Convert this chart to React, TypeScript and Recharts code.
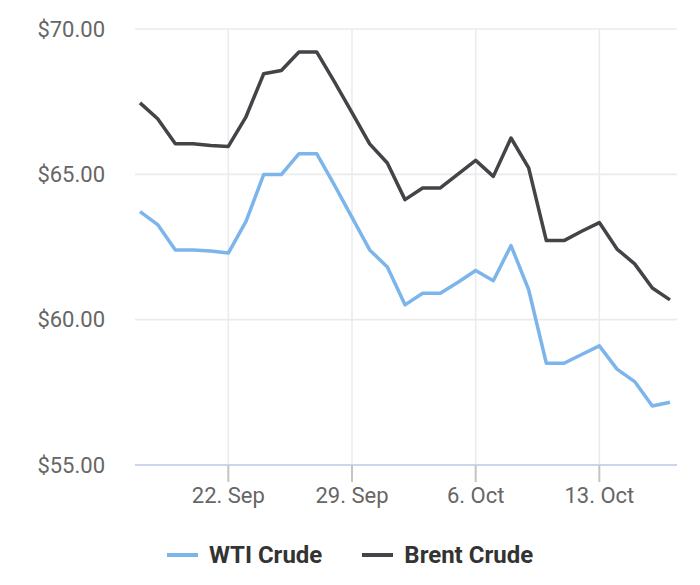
import { LineChart, Line, XAxis, YAxis, CartesianGrid, ReferenceLine } from "recharts";

const dates = [
  "17. Sep", "18. Sep", "19. Sep", "20. Sep", "21. Sep", "22. Sep", "23. Sep", "24. Sep",
  "25. Sep", "26. Sep", "27. Sep", "28. Sep", "29. Sep", "30. Sep", "1. Oct", "2. Oct",
  "3. Oct", "4. Oct", "5. Oct", "6. Oct", "7. Oct", "8. Oct", "9. Oct", "10. Oct",
  "11. Oct", "12. Oct", "13. Oct", "14. Oct", "15. Oct", "16. Oct", "17. Oct",
];

const wti = [
  63.72, 63.27, 62.4, 62.4, 62.36, 62.29, 63.38, 64.99, 64.99, 65.71, 65.71,
  64.64, 63.52, 62.4, 61.81, 60.51, 60.91, 60.91, 61.29, 61.69, 61.34, 62.55,
  61.03, 58.5, 58.5, 58.8, 59.1, 58.3, 57.87, 57.03, 57.16,
];

const brent = [
  67.46, 66.91, 66.05, 66.05, 65.99, 65.96, 66.98, 68.46, 68.57, 69.21, 69.21,
  68.19, 67.12, 66.05, 65.39, 64.13, 64.53, 64.53, 65.01, 65.48, 64.93, 66.25,
  65.22, 62.72, 62.72, 63.04, 63.34, 62.43, 61.92, 61.09, 60.68,
];

const xTickLabels = ["22. Sep", "29. Sep", "6. Oct", "13. Oct"];
const yTicks = [55, 60, 65, 70];

const series = [
  { key: "wti", name: "WTI Crude", color: "#7cb5ec" },
  { key: "brent", name: "Brent Crude", color: "#434348" },
];

const data = dates.map((d, i) => ({ i, date: d, wti: wti[i], brent: brent[i] }));
const xTicks = xTickLabels.map((l) => dates.indexOf(l));

const FONT = "Roboto, sans-serif";
const GRID = "#ebebeb";

export default function App() {
  return (
    <div style={{ position: "relative", width: 684, height: 569, fontFamily: FONT }}>
      <LineChart width={684} height={569} data={data} margin={{ top: 21, right: 15, bottom: 52, left: 0 }}>
        <CartesianGrid stroke={GRID} strokeWidth={1.6} vertical={false} />
        {xTicks.map((t) => (
          <ReferenceLine key={t} x={t} stroke={GRID} strokeWidth={1.6} />
        ))}
        <XAxis
          dataKey="i"
          type="number"
          domain={[0, dates.length - 1]}
          ticks={xTicks}
          tickFormatter={(v: number) => dates[v]}
          padding={{ left: 5, right: 7 }}
          height={60}
          axisLine={{ stroke: "#ccd6eb", strokeWidth: 2 }}
          tickLine={{ stroke: "#c4c4c4", strokeWidth: 2 }}
          tickSize={17}
          tickMargin={5}
          tick={{ fill: "#666666", fontSize: 22, fontFamily: FONT }}
        />
        <YAxis
          domain={[55, 70]}
          ticks={yTicks}
          width={127}
          axisLine={false}
          tickLine={false}
          tickSize={0}
          tickMargin={30}
          tickFormatter={(v: number) => `$${v.toFixed(2)}`}
          tick={{ fill: "#666666", fontSize: 22, fontFamily: FONT }}
        />
        {series.map((s) => (
          <Line
            key={s.key}
            type="linear"
            dataKey={s.key}
            name={s.name}
            stroke={s.color}
            strokeWidth={3.5}
            strokeLinejoin="round"
            dot={false}
            isAnimationActive={false}
          />
        ))}
      </LineChart>
      <div
        style={{
          position: "absolute",
          top: 532,
          left: 0,
          width: 684,
          display: "flex",
          justifyContent: "center",
          gap: 40,
        }}
      >
        {series.map((s) => (
          <div key={s.key} style={{ display: "flex", alignItems: "center", gap: 11 }}>
            <div style={{ width: 31, height: 3.5, background: s.color }} />
            <span style={{ fontSize: 24, fontWeight: 700, color: "#333333", lineHeight: "30px" }}>{s.name}</span>
          </div>
        ))}
      </div>
    </div>
  );
}
